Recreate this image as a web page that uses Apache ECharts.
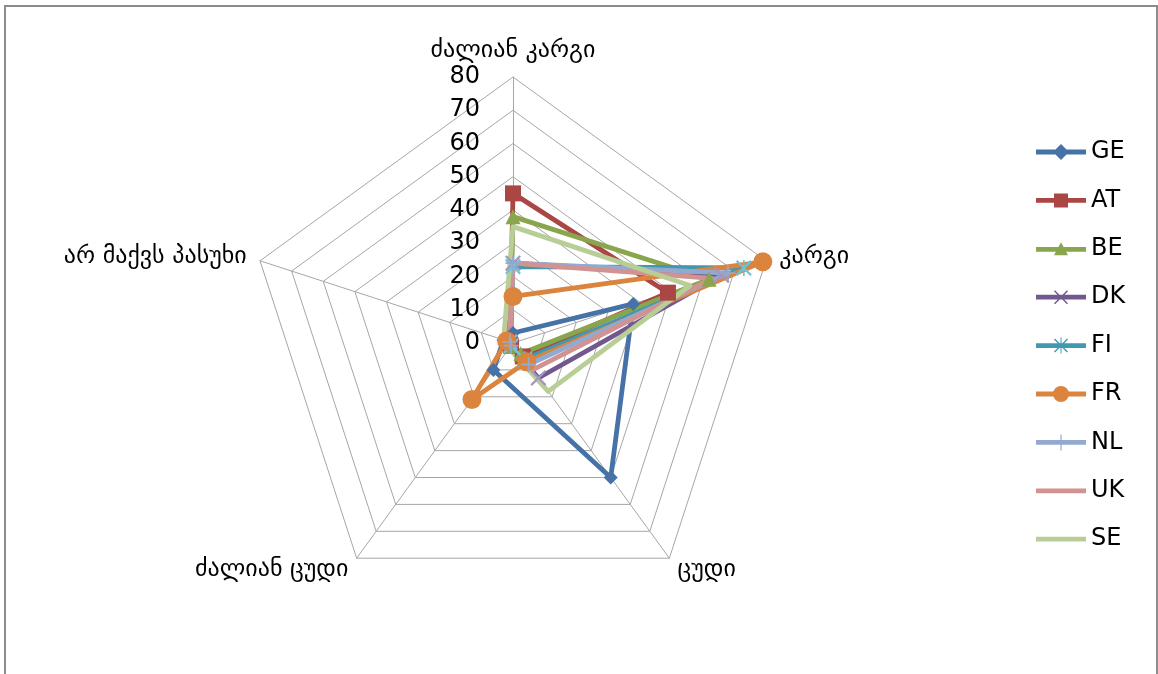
<!DOCTYPE html>
<html>
<head>
<meta charset="utf-8">
<script src="https://cdn.jsdelivr.net/npm/echarts@6/dist/echarts.min.js"></script>
<style>
  html, body { margin: 0; padding: 0; background: #fff; }
  #chart { position: absolute; left: 0; top: 0; width: 1158px; height: 674px; }
  #frame { position: absolute; left: 4px; top: 5px; width: 1150px; height: 720px; border: 2px solid #8c8c8c; pointer-events: none; }
</style>
</head>
<body>
<div id="chart"></div>
<div id="frame"></div>
<script>
// categories in reading order (top, then clockwise)
const categories = ["ძალიან კარგი", "კარგი", "ცუდი", "ძალიან ცუდი", "არ მაქვს პასუხი"];
const countries = ["GE", "AT", "BE", "DK", "FI", "FR", "NL", "UK", "SE"];

// values per country, same order as categories
const GE = [3, 38, 50, 10, 3];
const AT = [45, 49, 5, 1, 1];
const BE = [38, 62, 4, 1, 1];
const DK = [24, 66, 13, 1, 1];
const FI = [23, 73, 6, 1, 1];
const FR = [14, 79, 7, 21, 2];
const NL = [24, 68, 8, 1, 1];
const UK = [24, 63, 10, 1, 1];
const SE = [35, 56, 18, 2, 3];

const values = { GE, AT, BE, DK, FI, FR, NL, UK, SE };
const axisMax = 80;

const colors = {
  GE: "#4572A7", AT: "#AA4643", BE: "#89A54E", DK: "#71588F", FI: "#4198AF",
  FR: "#DB843D", NL: "#93A9CF", UK: "#D19392", SE: "#B9CD96"
};
const markerColors = { DK: "#A596BD", FI: "#6CC3DB", NL: "#93A9CF" };

// marker shapes
const xPath = "path://M0,1 L1,0 L10,9 L9,10 Z M9,0 L10,1 L1,10 L0,9 Z";
const starPath = "path://M0,1 L1,0 L10,9 L9,10 Z M9,0 L10,1 L1,10 L0,9 Z M4.5,0 L5.5,0 L5.5,10 L4.5,10 Z";
const plusPath = "path://M4.4,0 L5.6,0 L5.6,10 L4.4,10 Z M0,4.4 L10,4.4 L10,5.6 L0,5.6 Z";
const symbols = {
  GE: ["diamond", 14], AT: ["rect", 16], BE: ["triangle", 15], DK: [xPath, 16],
  FI: [starPath, 16], FR: ["circle", 19], NL: [plusPath, 15], UK: ["none", 0], SE: ["none", 0]
};

// legend icons: line with marker in the middle
const bar = "M0,7.6 L50,7.6 L50,12.4 L0,12.4 Z";
const legendIcons = {
  GE: "path://" + bar + " M25,2 L33,10 L25,18 L17,10 Z",
  AT: "path://" + bar + " M18,3 L32,3 L32,17 L18,17 Z",
  BE: "path://" + bar + " M25,3 L32,16 L18,16 Z",
  DK: "path://" + bar + " M18,4 L19,3 L32,16 L31,17 Z M31,3 L32,4 L19,17 L18,16 Z",
  FI: "path://" + bar + " M18,4 L19,3 L32,16 L31,17 Z M31,3 L32,4 L19,17 L18,16 Z M24.5,2 L25.5,2 L25.5,18 L24.5,18 Z",
  FR: "path://" + bar + " M25,2 A8,8 0 1 1 24.99,2 Z",
  NL: "path://" + bar + " M24.4,2 L25.6,2 L25.6,18 L24.4,18 Z",
  UK: "path://" + bar + " M0,0 L0.01,0 Z M0,20 L0.01,20 Z",
  SE: "path://" + bar + " M0,0 L0.01,0 Z M0,20 L0.01,20 Z"
};

// echarts radar places indicators counter-clockwise
const order = [0, 4, 3, 2, 1];
const indicator = order.map((i, k) => {
  const ind = { name: categories[i], min: 0, max: axisMax };
  if (k === 0) {
    ind.axisLabel = { show: true, fontFamily: "DejaVu Sans", fontSize: 24, color: "#000", margin: 33 };
  }
  return ind;
});

const seriesData = countries.map((c) => ({
  name: c,
  value: order.map((i) => values[c][i]),
  symbol: symbols[c][0],
  symbolSize: symbols[c][1],
  lineStyle: { color: colors[c], width: 4.8, cap: "round", join: "round" },
  itemStyle: { color: markerColors[c] || colors[c] }
}));

const chart = echarts.init(document.getElementById("chart"), null, { renderer: "canvas" });
chart.setOption({
  animation: false,
  legend: {
    orient: "vertical",
    left: 1031,
    top: 135,
    itemWidth: 50,
    itemHeight: 20,
    itemGap: 24.4,
    data: countries.map((c) => ({ name: c, icon: legendIcons[c], itemStyle: { color: colors[c] } })),
    textStyle: { fontFamily: "DejaVu Sans", fontSize: 24, color: "#000", lineHeight: 22 }
  },
  radar: {
    center: [513, 343],
    radius: 266,
    startAngle: 90,
    shape: "polygon",
    splitNumber: 8,
    indicator: indicator,
    nameGap: 14,
    axisName: { color: "#000", fontFamily: "DejaVu Sans", fontSize: 24 },
    axisLine: { lineStyle: { color: "#a6a6a6", width: 1 } },
    splitLine: { lineStyle: { color: "#a6a6a6", width: 1 } },
    splitArea: { show: false },
    axisTick: { show: false },
    axisLabel: { show: false }
  },
  series: [{
    type: "radar",
    data: seriesData
  }]
});
</script>
</body>
</html>
